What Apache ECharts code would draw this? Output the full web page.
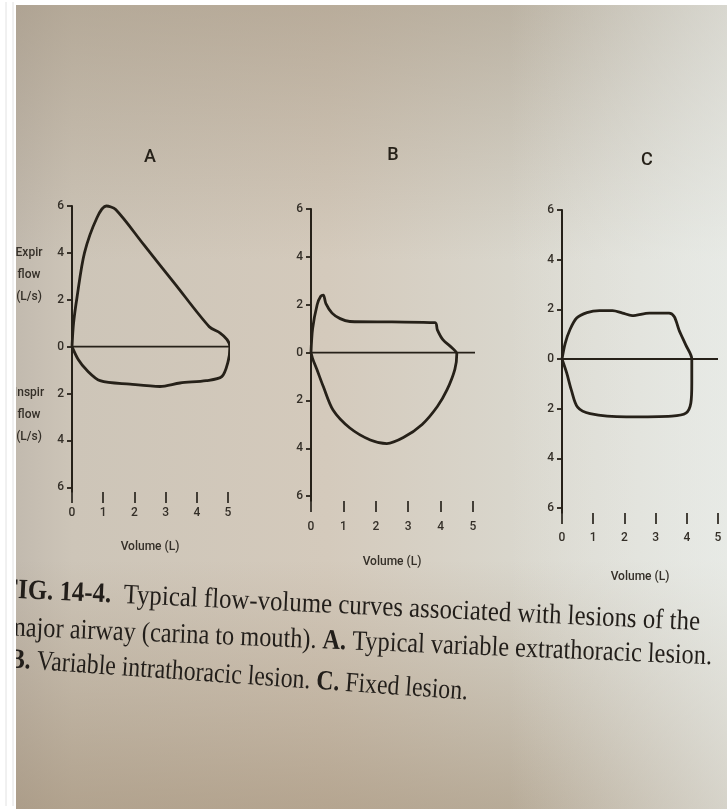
<!DOCTYPE html>
<html>
<head>
<meta charset="utf-8">
<script src="https://cdn.jsdelivr.net/npm/echarts@6/dist/echarts.min.js"></script>
<style>
  html, body { margin: 0; padding: 0; background: #ffffff; }
  #chart { width: 727px; height: 809px; }
</style>
</head>
<body>
<div id="chart"></div>
<script>
// Flow-volume loops, points as [volume (L), flow (L/s)];
// expiration is positive, inspiration negative.
const loopA = [[0,0],[0.05,1.0],[0.16,2.1],[0.4,4.0],[0.8,5.5],[1.1,6.0],[1.4,5.85],[2.3,4.35],[3.3,2.68],
  [4.4,0.85],[4.75,0.58],[4.97,0.3],[5.06,0],[5.0,-0.65],[4.8,-1.28],[4.3,-1.45],[3.46,-1.55],[2.82,-1.7],
  [1.86,-1.6],[0.9,-1.45],[0.47,-1.0],[0.2,-0.55],[0,0]];
const loopB = [[0,0],[0.05,1.0],[0.19,2.0],[0.3,2.35],[0.38,2.4],[0.46,2.05],[0.65,1.65],[0.9,1.42],[1.2,1.3],
  [2.5,1.28],[3.83,1.25],[3.9,0.95],[4.07,0.54],[4.35,0.2],[4.5,-0.05],[4.44,-0.7],[4.2,-1.55],[3.9,-2.25],
  [3.43,-3.0],[2.85,-3.55],[2.34,-3.8],[1.83,-3.65],[1.2,-3.15],[0.68,-2.4],[0.38,-1.42],[0.18,-0.7],[0.05,-0.25],[0,0]];
const loopC = [[0,0],[0.1,0.62],[0.25,1.17],[0.47,1.65],[0.8,1.87],[1.2,1.95],[1.62,1.95],[1.94,1.85],[2.25,1.75],
  [2.8,1.85],[3.43,1.85],[3.6,1.7],[3.75,1.17],[3.97,0.56],[4.16,0],[4.16,-0.97],[4.13,-1.77],[3.97,-2.18],
  [3.52,-2.3],[2.06,-2.33],[0.9,-2.2],[0.5,-1.94],[0.3,-1.25],[0.15,-0.56],[0,0]];

// Right end (L) of the zero-flow line in each panel
const zeroLineEnds = [5.06, 5.1, 5.0];

// Panel letters and axis ticks
const panelNames = ['A', 'B', 'C'];
const flowTicks = [-6, -4, -2, 0, 2, 4, 6];
const volumeTicks = [0, 1, 2, 3, 4, 5];

const flowAxisLabels = ['Expir\nflow\n(L/s)', 'Inspir\nflow\n(L/s)'];
const volumeTitle = 'Volume (L)';
const captionLines = [
  '{b|FIG. 14-4.}  Typical flow-volume curves associated with lesions of the',
  'major airway (carina to mouth). {b|A.} Typical variable extrathoracic lesion.',
  '{b|B.} Variable intrathoracic lesion. {b|C.} Fixed lesion.'
];

const loops = [loopA, loopB, loopC];

// ---- layout ----
const SANS = "Roboto,'Liberation Sans',sans-serif";
const SERIF = "'Liberation Serif','DejaVu Serif',serif";
const INK = '#262119';
const LABEL_INK = '#342f28';

const gridBoxes = [
  { left: 72,  top: 206, width: 156, height: 286 },
  { left: 311, top: 209, width: 162, height: 292 },
  { left: 562, top: 210, width: 156, height: 303 }
];
const volLabelMargin = [15, 20, 19];
const volNameGap = [49, 55, 58];
const panelTitlePos = [[150, 157], [393, 155], [647, 160]];

const grid = gridBoxes.map(b => Object.assign({ containLabel: false }, b));

const xAxis = gridBoxes.map((b, i) => ({
  type: 'value', gridIndex: i, min: 0, max: 5, interval: 1,
  axisLine: { show: false, onZero: false },
  axisTick: { show: true, length: 11, lineStyle: { color: LABEL_INK, width: 1.8 } },
  axisLabel: { margin: volLabelMargin[i], color: LABEL_INK, fontFamily: SANS, fontSize: 12, fontWeight: 500,
               formatter: v => volumeTicks.includes(v) ? String(v) : '' },
  splitLine: { show: false },
  name: volumeTitle, nameLocation: 'middle', nameGap: volNameGap[i],
  nameTextStyle: { color: LABEL_INK, fontFamily: SANS, fontSize: 12, fontWeight: 500 }
}));

const yAxis = gridBoxes.map((b, i) => ({
  type: 'value', gridIndex: i, min: -6.2, max: 6,
  axisLine: { show: true, onZero: false, lineStyle: { color: INK, width: 2 } },
  axisTick: { show: true, length: 5, customValues: flowTicks, lineStyle: { color: INK, width: 1.8 } },
  axisLabel: { customValues: flowTicks, margin: 8, color: LABEL_INK, fontFamily: SANS, fontSize: 12, fontWeight: 500,
               formatter: v => String(Math.abs(v)) },
  splitLine: { show: false }
}));

const series = [];
loops.forEach((loop, i) => {
  series.push({
    type: 'line', xAxisIndex: i, yAxisIndex: i, data: loop,
    smooth: 0.3, showSymbol: false, clip: false, silent: true,
    lineStyle: { color: INK, width: 2.8 }
  });
  series.push({
    type: 'line', xAxisIndex: i, yAxisIndex: i, data: [[0, 0], [zeroLineEnds[i], 0]],
    showSymbol: false, clip: false, silent: true,
    lineStyle: { color: INK, width: 1.8 }
  });
});

// ---- page background (photographed paper) ----
const W = 727, H = 809;
const paper = [
  { type: 'rect', z: -100, silent: true, shape: { x: 0, y: 0, width: W, height: H },
    style: { fill: { type: 'linear', x: 0, y: 0, x2: 1, y2: 0, colorStops: [
      { offset: 0, color: '#bfb7ac' }, { offset: 0.1, color: '#cdc5b8' }, { offset: 0.45, color: '#d4cabc' },
      { offset: 0.7, color: '#d9d6cc' }, { offset: 1, color: '#e3e5e0' } ] } } },
  { type: 'rect', z: -99, silent: true, shape: { x: 0, y: 0, width: W, height: 260 },
    style: { fill: { type: 'linear', x: 0, y: 0, x2: 0, y2: 1, colorStops: [
      { offset: 0, color: 'rgba(150,134,112,0.45)' }, { offset: 1, color: 'rgba(150,134,112,0)' } ] } } },
  { type: 'rect', z: -99, silent: true, shape: { x: 0, y: 560, width: W, height: H - 560 },
    style: { fill: { type: 'linear', x: 0, y: 0, x2: 0, y2: 1, colorStops: [
      { offset: 0, color: 'rgba(150,128,100,0)' }, { offset: 1, color: 'rgba(150,128,100,0.5)' } ] } } },
  { type: 'rect', z: -98, silent: true, shape: { x: 0, y: 0, width: W, height: H },
    style: { fill: { type: 'linear', x: 0, y: 0, x2: 1, y2: 0, colorStops: [
      { offset: 0, color: 'rgba(235,238,234,0)' }, { offset: 0.7, color: 'rgba(235,238,234,0)' },
      { offset: 1, color: 'rgba(235,238,234,0.55)' } ] } } }
];

// white scalloped margin along the left and top edges
const margin = [
  { type: 'rect', z: 100, silent: true, shape: { x: 0, y: 0, width: 16, height: H }, style: { fill: '#ffffff' } },
  { type: 'rect', z: 100, silent: true, shape: { x: 0, y: 0, width: W, height: 5 }, style: { fill: '#ffffff' } }
];
for (let col = 0; col < 2; col++) {
  const pts = [];
  for (let y = 2; y < H; y += 4) pts.push([3 + col * 7 + ((y / 4) % 2 ? 3 : 0), y]);
  margin.push({ type: 'polyline', z: 101, silent: true, shape: { points: pts },
    style: { stroke: '#e2e2e2', lineWidth: 1, fill: null } });
}

// ---- texts ----
const texts = [];
panelNames.forEach((name, i) => {
  texts.push({ type: 'text', z: 10, silent: true, x: panelTitlePos[i][0], y: panelTitlePos[i][1],
    style: { text: name, fill: INK, font: '500 18px ' + SANS, align: 'center', verticalAlign: 'middle' } });
});
texts.push({ type: 'text', z: 10, silent: true, x: 29, y: 275,
  style: { text: flowAxisLabels[0], fill: LABEL_INK, font: '500 12px ' + SANS, align: 'center',
           verticalAlign: 'middle', lineHeight: 22 } });
texts.push({ type: 'text', z: 10, silent: true, x: 29, y: 415,
  style: { text: flowAxisLabels[1], fill: LABEL_INK, font: '500 12px ' + SANS, align: 'center',
           verticalAlign: 'middle', lineHeight: 22 } });

// caption lines: start point, end x, and tilt of each printed line
const captionGeom = [
  { x: 3, y: 590, endX: 700, angle: 0.047 },
  { x: 7, y: 628, endX: 712, angle: 0.041 },
  { x: 9, y: 660, endX: 468, angle: 0.07 }
];
const CAP_SIZE = 28;
const CAP_INK = '#221e1a';
const measureCtx = document.createElement('canvas').getContext('2d');
function measureRich(line) {
  let w = 0;
  line.split(/(\{b\|[^}]*\})/).forEach(part => {
    if (!part) return;
    const m = part.match(/^\{b\|([^}]*)\}$/);
    measureCtx.font = (m ? 'bold ' : '') + CAP_SIZE + 'px ' + SERIF;
    w += measureCtx.measureText(m ? m[1] : part).width;
  });
  return w;
}
captionLines.forEach((line, i) => {
  const g = captionGeom[i];
  const len = (g.endX - g.x) / Math.cos(g.angle);
  texts.push({ type: 'text', z: 10, silent: true, x: g.x, y: g.y, rotation: -g.angle,
    scaleX: len / measureRich(line), scaleY: 1,
    style: { text: line, fill: CAP_INK, fontFamily: SERIF, fontSize: CAP_SIZE,
      align: 'left', verticalAlign: 'middle',
      rich: { b: { fontFamily: SERIF, fontSize: CAP_SIZE, fontWeight: 'bold', fill: CAP_INK } } } });
});

const chart = echarts.init(document.getElementById('chart'), null, { renderer: 'canvas' });
chart.setOption({
  backgroundColor: 'transparent',
  animation: false,
  grid, xAxis, yAxis, series,
  graphic: { elements: paper.concat(texts, margin) }
});
</script>
</body>
</html>
